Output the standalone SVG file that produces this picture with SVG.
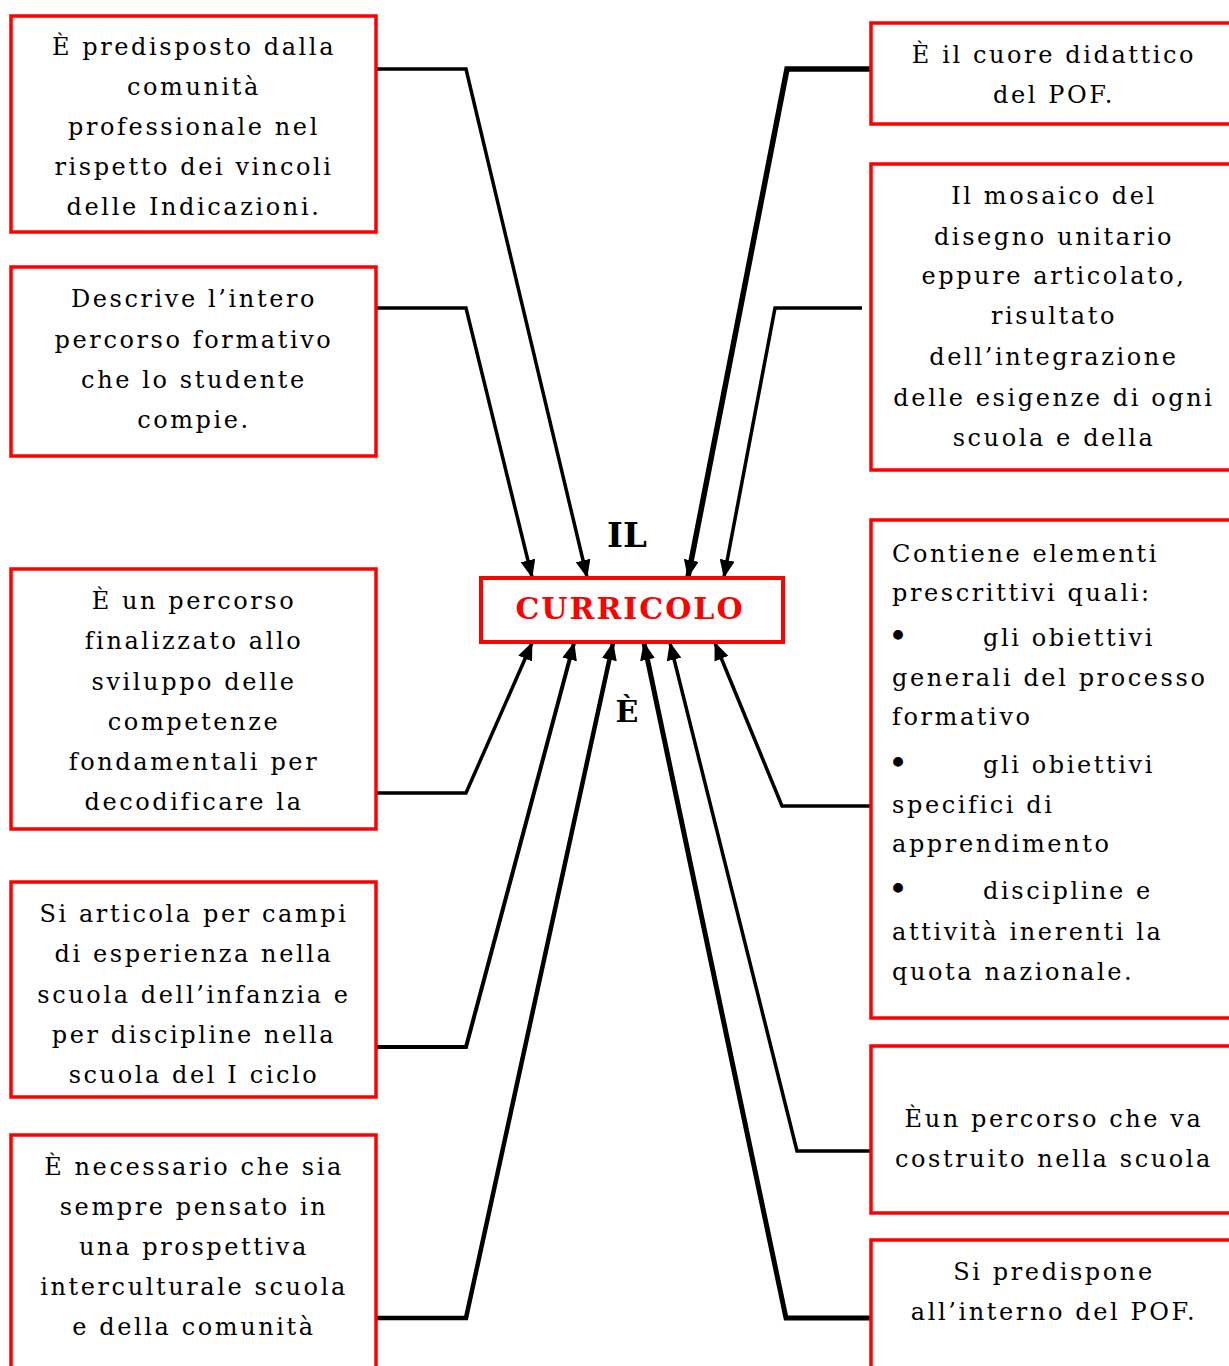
<svg xmlns="http://www.w3.org/2000/svg" width="1229" height="1366" viewBox="0 0 1229 1366">
<style>
.box{fill:#fff;stroke:#ff0000;stroke-width:3.5}
.t{font-family:"DejaVu Serif","Liberation Serif",serif;font-size:24px;letter-spacing:2.6px;fill:#000}
.c{text-anchor:middle}
.b{font-size:34px;letter-spacing:0}
.con{fill:none;stroke:#000;stroke-width:3.5;stroke-linejoin:miter}
.big{font-family:"DejaVu Serif","Liberation Serif",serif;font-weight:bold;text-anchor:middle}
</style>
<defs>
<marker id="ah" markerUnits="userSpaceOnUse" markerWidth="18" markerHeight="15" refX="17" refY="7.5" orient="auto" viewBox="0 0 18 15">
<path d="M0,0 L18,7.5 L0,15 z" fill="#000"/>
</marker>
</defs>
<rect width="1229" height="1366" fill="#fff"/>
<g id="connectors">
<path class="con" d="M376,69 H466 L587,577" marker-end="url(#ah)"/>
<path class="con" d="M376,308 H466 L532,577" marker-end="url(#ah)"/>
<path class="con" d="M376,793 H466 L532,643" marker-end="url(#ah)"/>
<path class="con" style="stroke-width:4" d="M376,1047 H466 L574,643" marker-end="url(#ah)"/>
<path class="con" style="stroke-width:4.5" d="M376,1318 H466 L613,643" marker-end="url(#ah)"/>
<path class="con" style="stroke-width:5.5" d="M871,69 H787 L688,577" marker-end="url(#ah)"/>
<path class="con" d="M862,308 H775 L724,577" marker-end="url(#ah)"/>
<path class="con" d="M871,806 H782 L715,643" marker-end="url(#ah)"/>
<path class="con" d="M871,1151 H797 L670,643" marker-end="url(#ah)"/>
<path class="con" style="stroke-width:5" d="M871,1318 H786 L644,643" marker-end="url(#ah)"/>
</g>
<g id="center">
<rect x="481" y="578" width="302" height="64" fill="#fff" stroke="#ff0000" stroke-width="4"/>
<text class="big" x="630" y="619" font-size="30" fill="#ff0000" letter-spacing="2">CURRICOLO</text>
</g>
<g id="label-il"><text class="big" x="627" y="547" font-size="34">IL</text></g>
<g id="label-e"><text class="big" x="627" y="722" font-size="30">È</text></g>
<g id="l1">
<rect class="box" x="11" y="16" width="365" height="216"/>
<text class="t c" x="194" y="55">È predisposto dalla</text>
<text class="t c" x="194" y="95">comunità</text>
<text class="t c" x="194" y="135">professionale nel</text>
<text class="t c" x="194" y="175">rispetto dei vincoli</text>
<text class="t c" x="194" y="215">delle Indicazioni.</text>
</g>
<g id="l2">
<rect class="box" x="11" y="267" width="365" height="189"/>
<text class="t c" x="194" y="307">Descrive l’intero</text>
<text class="t c" x="194" y="348">percorso formativo</text>
<text class="t c" x="194" y="388">che lo studente</text>
<text class="t c" x="194" y="428">compie.</text>
</g>
<g id="l3">
<rect class="box" x="11" y="569" width="365" height="260"/>
<text class="t c" x="194" y="609">È un percorso</text>
<text class="t c" x="194" y="649">finalizzato allo</text>
<text class="t c" x="194" y="690">sviluppo delle</text>
<text class="t c" x="194" y="730">competenze</text>
<text class="t c" x="194" y="770">fondamentali per</text>
<text class="t c" x="194" y="810">decodificare la</text>
</g>
<g id="l4">
<rect class="box" x="11" y="882" width="365" height="215"/>
<text class="t c" x="194" y="922">Si articola per campi</text>
<text class="t c" x="194" y="962">di esperienza nella</text>
<text class="t c" x="194" y="1003">scuola dell’infanzia e</text>
<text class="t c" x="194" y="1043">per discipline nella</text>
<text class="t c" x="194" y="1083">scuola del I ciclo</text>
</g>
<g id="l5">
<rect class="box" x="11" y="1135" width="365" height="260"/>
<text class="t c" x="194" y="1175">È necessario che sia</text>
<text class="t c" x="194" y="1215">sempre pensato in</text>
<text class="t c" x="194" y="1255">una prospettiva</text>
<text class="t c" x="194" y="1295">interculturale scuola</text>
<text class="t c" x="194" y="1335">e della comunità</text>
</g>
<g id="r1">
<rect class="box" x="871" y="23" width="380" height="101"/>
<text class="t c" x="1054" y="63">È il cuore didattico</text>
<text class="t c" x="1054" y="103">del POF.</text>
</g>
<g id="r2">
<rect class="box" x="871" y="164" width="380" height="306"/>
<text class="t c" x="1054" y="204">Il mosaico del</text>
<text class="t c" x="1054" y="245">disegno unitario</text>
<text class="t c" x="1054" y="284">eppure articolato,</text>
<text class="t c" x="1054" y="324">risultato</text>
<text class="t c" x="1054" y="365">dell’integrazione</text>
<text class="t c" x="1054" y="406">delle esigenze di ogni</text>
<text class="t c" x="1054" y="446">scuola e della</text>
</g>
<g id="r3">
<rect class="box" x="871" y="520" width="380" height="498"/>
<text class="t" x="892" y="562">Contiene elementi</text>
<text class="t" x="892" y="601">prescrittivi quali:</text>
<text class="t b" x="888" y="648">•</text>
<text class="t" x="983" y="646">gli obiettivi</text>
<text class="t" x="892" y="686">generali del processo</text>
<text class="t" x="892" y="725">formativo</text>
<text class="t b" x="888" y="775">•</text>
<text class="t" x="983" y="773">gli obiettivi</text>
<text class="t" x="892" y="813">specifici di</text>
<text class="t" x="892" y="852">apprendimento</text>
<text class="t b" x="888" y="901">•</text>
<text class="t" x="983" y="899">discipline e</text>
<text class="t" x="892" y="940">attività inerenti la</text>
<text class="t" x="892" y="980">quota nazionale.</text>
</g>
<g id="r4">
<rect class="box" x="871" y="1046" width="380" height="167"/>
<text class="t c" x="1054" y="1127">Èun percorso che va</text>
<text class="t c" x="1054" y="1167">costruito nella scuola</text>
</g>
<g id="r5">
<rect class="box" x="871" y="1240" width="380" height="200"/>
<text class="t c" x="1054" y="1280">Si predispone</text>
<text class="t c" x="1054" y="1320">all’interno del POF.</text>
</g>
</svg>
